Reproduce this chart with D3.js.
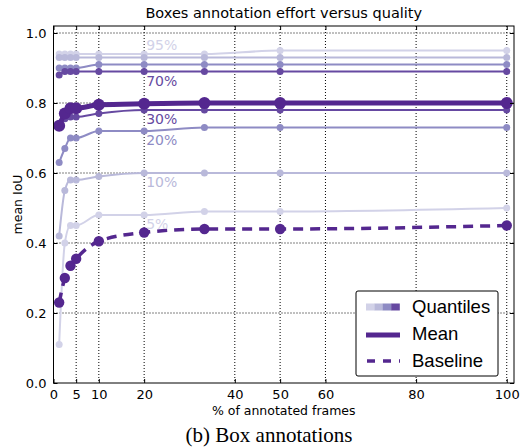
<!DOCTYPE html>
<html>
<head>
<meta charset="utf-8">
<script src="https://cdn.jsdelivr.net/npm/d3@7"></script>
<style>
  body { margin: 0; background: #fff; }
  svg text { font-family: "DejaVu Sans", sans-serif; }
</style>
</head>
<body>
<svg id="chart" width="521" height="447"></svg>
<script>
// % of annotated frames at which the runs were measured
const frames = [1.25, 2.5, 3.75, 5, 10, 20, 33.3, 50, 100]

// quantile curves (mean IoU)
const q5  = [0.11, 0.40, 0.45, 0.45, 0.48, 0.48, 0.49, 0.49, 0.50]
const q10 = [0.42, 0.55, 0.58, 0.58, 0.59, 0.60, 0.60, 0.60, 0.60]
const q20 = [0.63, 0.67, 0.70, 0.70, 0.72, 0.72, 0.73, 0.73, 0.73]
const q30 = [0.73, 0.755, 0.76, 0.76, 0.77, 0.78, 0.78, 0.78, 0.78]
const q70 = [0.88, 0.89, 0.89, 0.89, 0.89, 0.89, 0.89, 0.89, 0.89]
const q80 = [0.90, 0.90, 0.90, 0.90, 0.91, 0.91, 0.91, 0.91, 0.91]
const q90 = [0.93, 0.93, 0.93, 0.93, 0.93, 0.93, 0.93, 0.93, 0.93]
const q95 = [0.94, 0.94, 0.94, 0.94, 0.94, 0.94, 0.94, 0.95, 0.95]

const meanIoU     = [0.735, 0.77, 0.785, 0.785, 0.795, 0.798, 0.80, 0.80, 0.80]
const baselineIoU = [0.23, 0.30, 0.335, 0.355, 0.405, 0.43, 0.44, 0.44, 0.45]

const xTicks = [0, 5, 10, 20, 40, 50, 60, 80, 100]
const yTicks = [0.0, 0.2, 0.4, 0.6, 0.8, 1.0]

const quantiles = [
  {name: "5%",  values: q5,  shade: 0, label: true},
  {name: "95%", values: q95, shade: 0, label: true, above: true},
  {name: "10%", values: q10, shade: 1, label: true},
  {name: "90%", values: q90, shade: 1, label: false},
  {name: "20%", values: q20, shade: 2, label: true},
  {name: "80%", values: q80, shade: 2, label: false},
  {name: "30%", values: q30, shade: 3, label: true},
  {name: "70%", values: q70, shade: 3, label: true}
]
const shades = ["#d2d2e8", "#b9b9da", "#8e8bc4", "#6649a1"]
const meanColor = "#54278f"

let margin = {top: 26, right: 7, bottom: 64, left: 53.5}
  , width = 521 - margin.left - margin.right
  , height = 447 - margin.top - margin.bottom

let xScale = d3.scaleLinear().domain([0, 101.6]).range([0, width])
let yScale = d3.scaleLinear().domain([0, 1.02]).range([height, 0])

let line = d3.line()
  .x((d, i) => xScale(frames[i]))
  .y(d => yScale(d))
  .curve(d3.curveMonotoneX)

let root = d3.select("#chart")
let svg = root.append("g")
  .attr("transform", "translate(" + margin.left + "," + margin.top + ")")

// dotted grid
svg.append("g").selectAll("line")
  .data(xTicks.filter(t => t > 0))
  .enter().append("line")
  .attr("x1", d => xScale(d)).attr("x2", d => xScale(d))
  .attr("y1", 0).attr("y2", height)
  .attr("stroke", "#000").attr("stroke-width", 1).attr("stroke-dasharray", "1,2")
svg.append("g").selectAll("line")
  .data(yTicks.filter(t => t > 0))
  .enter().append("line")
  .attr("x1", 0).attr("x2", width)
  .attr("y1", d => yScale(d)).attr("y2", d => yScale(d))
  .attr("stroke", "#000").attr("stroke-width", 1).attr("stroke-dasharray", "1,2")

// quantile curves
quantiles.forEach(q => {
  let c = shades[q.shade]
  svg.append("path")
    .datum(q.values)
    .attr("fill", "none").attr("stroke", c).attr("stroke-width", 2)
    .attr("d", line)
  svg.selectAll(".dot-" + q.name.replace("%", ""))
    .data(q.values)
    .enter().append("circle")
    .attr("cx", (d, i) => xScale(frames[i]))
    .attr("cy", d => yScale(d))
    .attr("r", 3.5)
    .attr("fill", c)
})

// baseline
svg.append("path")
  .datum(baselineIoU)
  .attr("fill", "none").attr("stroke", meanColor).attr("stroke-width", 3.5)
  .attr("stroke-dasharray", "10,7")
  .attr("d", line)
svg.selectAll(".bdot")
  .data(baselineIoU)
  .enter().append("circle")
  .attr("cx", (d, i) => xScale(frames[i]))
  .attr("cy", d => yScale(d))
  .attr("r", 5.2)
  .attr("fill", meanColor)

// mean
svg.append("path")
  .datum(meanIoU)
  .attr("fill", "none").attr("stroke", meanColor).attr("stroke-width", 5)
  .attr("d", line)
svg.selectAll(".mdot")
  .data(meanIoU)
  .enter().append("circle")
  .attr("cx", (d, i) => xScale(frames[i]))
  .attr("cy", d => yScale(d))
  .attr("r", 6)
  .attr("fill", meanColor)

// quantile labels next to the 20% column
const labelAt = frames.indexOf(20)
svg.selectAll(".qlabel")
  .data(quantiles.filter(q => q.label))
  .enter().append("text")
  .attr("x", xScale(20) + 2)
  .attr("y", d => yScale(d.values[labelAt]) + (d.above ? -4 : 14))
  .attr("font-size", 14)
  .attr("fill", d => shades[d.shade])
  .text(d => d.name)

// frame
svg.append("rect")
  .attr("width", width).attr("height", height)
  .attr("fill", "none").attr("stroke", "#000").attr("stroke-width", 1)

// axes with inward ticks on all sides
svg.append("g")
  .attr("transform", "translate(0," + height + ")")
  .call(d3.axisBottom(xScale).tickValues(xTicks).tickSizeInner(-4).tickSizeOuter(0).tickPadding(7))
  .call(g => g.select(".domain").remove())
  .call(g => g.selectAll("text").attr("font-size", 13).attr("font-family", "DejaVu Sans"))
svg.append("g")
  .call(d3.axisTop(xScale).tickValues(xTicks).tickSizeInner(-4).tickSizeOuter(0).tickFormat(""))
  .call(g => g.select(".domain").remove())
svg.append("g")
  .call(d3.axisLeft(yScale).tickValues(yTicks).tickFormat(d3.format(".1f")).tickSizeInner(-4).tickSizeOuter(0).tickPadding(7))
  .call(g => g.select(".domain").remove())
  .call(g => g.selectAll("text").attr("font-size", 13).attr("font-family", "DejaVu Sans"))
svg.append("g")
  .attr("transform", "translate(" + width + ",0)")
  .call(d3.axisRight(yScale).tickValues(yTicks).tickSizeInner(-4).tickSizeOuter(0).tickFormat(""))
  .call(g => g.select(".domain").remove())

// titles
svg.append("text")
  .attr("x", width / 2).attr("y", -8)
  .attr("text-anchor", "middle").attr("font-size", 14.5)
  .text("Boxes annotation effort versus quality")
svg.append("text")
  .attr("x", width / 2).attr("y", height + 32)
  .attr("text-anchor", "middle").attr("font-size", 12.5)
  .text("% of annotated frames")
svg.append("text")
  .attr("transform", "translate(-32," + (height / 2) + ") rotate(-90)")
  .attr("text-anchor", "middle").attr("font-size", 12.5)
  .text("mean IoU")

root.append("text")
  .attr("x", 269).attr("y", 442)
  .attr("text-anchor", "middle")
  .style("font-family", "'Liberation Serif', serif").attr("font-size", 21)
  .text("(b) Box annotations")

// legend
let legend = svg.append("g").attr("transform", "translate(" + (356 - margin.left) + "," + (291 - margin.top) + ")")
legend.append("rect")
  .attr("width", 142).attr("height", 85).attr("rx", 2)
  .attr("fill", "#fff").attr("stroke", "#000").attr("stroke-width", 1)
legend.selectAll(".sw")
  .data(shades)
  .enter().append("rect")
  .attr("x", (d, i) => 10 + i * 8.4).attr("y", 12.5)
  .attr("width", 8.6).attr("height", 7)
  .attr("fill", d => d)
legend.append("line")
  .attr("x1", 10).attr("x2", 44).attr("y1", 44).attr("y2", 44)
  .attr("stroke", meanColor).attr("stroke-width", 5)
legend.append("line")
  .attr("x1", 11).attr("x2", 44).attr("y1", 70).attr("y2", 70)
  .attr("stroke", meanColor).attr("stroke-width", 3.5).attr("stroke-dasharray", "8,8")
legend.selectAll(".lt")
  .data(["Quantiles", "Mean", "Baseline"])
  .enter().append("text")
  .attr("x", 56).attr("y", (d, i) => 22 + i * 27)
  .style("font-family", "'Liberation Sans', Arial, sans-serif").attr("font-size", 18.5)
  .text(d => d)
</script>
</body>
</html>
